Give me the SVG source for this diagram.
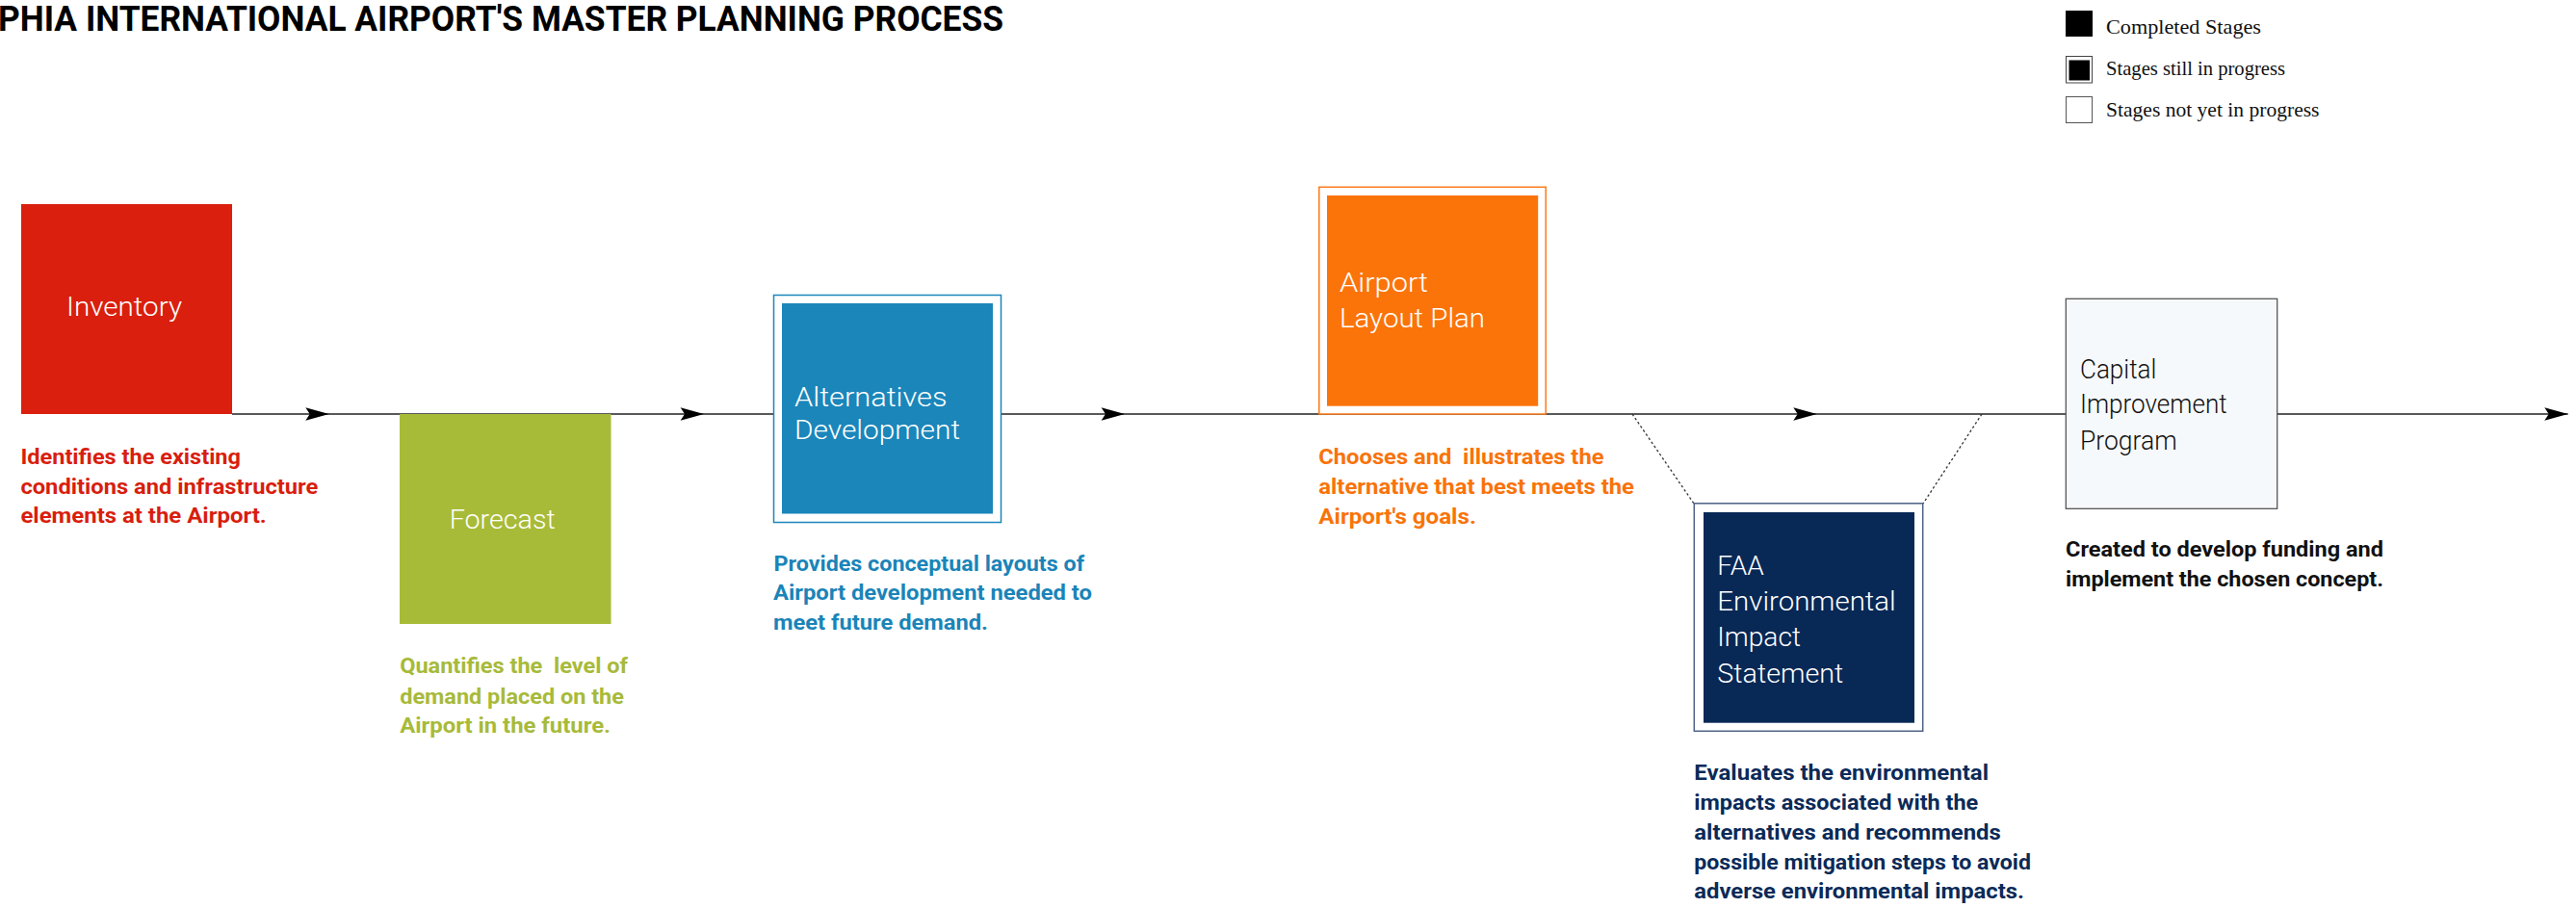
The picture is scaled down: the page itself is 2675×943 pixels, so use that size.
<svg xmlns="http://www.w3.org/2000/svg" width="2675" height="943" viewBox="0 0 2675 943">
  <style>
    .title{font-family:Roboto,"Liberation Sans",sans-serif;font-weight:700;font-size:36px;fill:#000}
    .lbl{font-family:Roboto,"Liberation Sans",sans-serif;font-weight:300;font-size:27px;fill:#fff}
    .dark{fill:#111}
    .desc{font-family:Roboto,"Liberation Sans",sans-serif;font-weight:700;font-size:22px;white-space:pre}
    .leg{font-family:"Liberation Serif",serif;font-size:21px;fill:#111}
    .conn{fill:none;stroke:#222;stroke-width:1.5}
    .dot{fill:none;stroke:#333;stroke-width:1.3;stroke-dasharray:2.5 2.5}
    .red{fill:#d81e0e}
    .green{fill:#a7ba39}
    .blue{fill:#1a84b8}
    .orange{fill:#f97309}
    .navy{fill:#0b2a58}
  </style>
  <defs>
    <marker id="arrow" markerUnits="userSpaceOnUse" markerWidth="26" markerHeight="16" refX="24.4" refY="7" orient="auto" overflow="visible">
      <path d="M0,0.3 L24.4,7 L0,13.7 L4.4,7 Z" fill="#000"/>
    </marker>
  </defs>

  <rect width="2675" height="943" fill="#fff"/>

  <!-- heading -->
  <text class="title" x="-2" y="32" textLength="1044" lengthAdjust="spacingAndGlyphs">PHIA INTERNATIONAL AIRPORT'S MASTER PLANNING PROCESS</text>

  <!-- legend -->
  <g id="legend">
    <rect x="2145" y="11" width="28" height="27" fill="#000"/>
    <text class="leg" x="2187" y="35" textLength="161" lengthAdjust="spacingAndGlyphs">Completed Stages</text>
    <rect x="2145.5" y="58.5" width="27" height="27.5" fill="#fff" stroke="#444" stroke-width="1"/>
    <rect x="2148.5" y="62.5" width="21.5" height="21" fill="#000"/>
    <text class="leg" x="2187" y="78" textLength="186" lengthAdjust="spacingAndGlyphs">Stages still in progress</text>
    <rect x="2145.5" y="100.5" width="27" height="27" fill="#fff" stroke="#555" stroke-width="1"/>
    <text class="leg" x="2187" y="120.5" textLength="221.5" lengthAdjust="spacingAndGlyphs">Stages not yet in progress</text>
  </g>

  <!-- process line and links to the EIS -->
  <g id="connectors">
    <path class="conn" d="M241,430 H341.7 H731 H1168 H1886.7 H2666.7" marker-mid="url(#arrow)" marker-end="url(#arrow)"/>
    <path class="dot" d="M1695,430 L1759,523"/>
    <path class="dot" d="M2058,430 L1997,523"/>
  </g>

  <!-- stages -->
  <g id="inventory">
    <rect x="22" y="212" width="219" height="218" fill="#da1f0e"/>
    <text class="lbl" x="69" y="328" textLength="120" lengthAdjust="spacingAndGlyphs">Inventory</text>
    <text class="desc red" x="21.4" y="482" textLength="228.6" lengthAdjust="spacingAndGlyphs">Identifies the existing</text>
    <text class="desc red" x="21.4" y="512.7" textLength="309" lengthAdjust="spacingAndGlyphs">conditions and infrastructure</text>
    <text class="desc red" x="21.4" y="542.7" textLength="255.4" lengthAdjust="spacingAndGlyphs">elements at the Airport.</text>
  </g>

  <g id="forecast">
    <rect x="415" y="430" width="219.5" height="218" fill="#a8bb38"/>
    <text class="lbl" x="466.7" y="549" textLength="110" lengthAdjust="spacingAndGlyphs">Forecast</text>
    <text class="desc green" x="415.2" y="699.3" textLength="236.8" lengthAdjust="spacingAndGlyphs">Quantifies the  level of</text>
    <text class="desc green" x="415.2" y="730.7" textLength="232.7" lengthAdjust="spacingAndGlyphs">demand placed on the</text>
    <text class="desc green" x="415.2" y="761" textLength="218.8" lengthAdjust="spacingAndGlyphs">Airport in the future.</text>
  </g>

  <g id="alternatives">
    <rect x="803.5" y="306.5" width="236" height="236" fill="#fff" stroke="#1b86ba" stroke-width="1.5"/>
    <rect x="812" y="315" width="219" height="218.5" fill="#1b86ba"/>
    <text class="lbl" x="825" y="421.7" textLength="158.6" lengthAdjust="spacingAndGlyphs">Alternatives</text>
    <text class="lbl" x="825" y="455.5" textLength="172" lengthAdjust="spacingAndGlyphs">Development</text>
    <text class="desc blue" x="803.5" y="592.7" textLength="322.5" lengthAdjust="spacingAndGlyphs">Provides conceptual layouts of</text>
    <text class="desc blue" x="803" y="623.3" textLength="331" lengthAdjust="spacingAndGlyphs">Airport development needed to</text>
    <text class="desc blue" x="803" y="654.3" textLength="223" lengthAdjust="spacingAndGlyphs">meet future demand.</text>
  </g>

  <g id="layout-plan">
    <rect x="1369.8" y="194.3" width="235.4" height="235.7" fill="#fff" stroke="#fb7a1a" stroke-width="1.5"/>
    <rect x="1378" y="203" width="219.2" height="218.7" fill="#fb740a"/>
    <text class="lbl" x="1391" y="303" textLength="92" lengthAdjust="spacingAndGlyphs">Airport</text>
    <text class="lbl" x="1391" y="339.5" textLength="151" lengthAdjust="spacingAndGlyphs">Layout Plan</text>
    <text class="desc orange" x="1369.3" y="481.7" textLength="296.2" lengthAdjust="spacingAndGlyphs">Chooses and  illustrates the</text>
    <text class="desc orange" x="1369.3" y="513.3" textLength="327.7" lengthAdjust="spacingAndGlyphs">alternative that best meets the</text>
    <text class="desc orange" x="1369.3" y="544.3" textLength="163.6" lengthAdjust="spacingAndGlyphs">Airport's goals.</text>
  </g>

  <g id="eis">
    <rect x="1759.3" y="522.8" width="237.4" height="236.5" fill="#fff" stroke="#4d6185" stroke-width="1.5"/>
    <rect x="1769" y="532" width="219" height="218.7" fill="#082856"/>
    <text class="lbl" x="1783.3" y="597.3" textLength="48.4" lengthAdjust="spacingAndGlyphs">FAA</text>
    <text class="lbl" x="1783.3" y="634" textLength="185.4" lengthAdjust="spacingAndGlyphs">Environmental</text>
    <text class="lbl" x="1783.3" y="671.3" textLength="86.7" lengthAdjust="spacingAndGlyphs">Impact</text>
    <text class="lbl" x="1783.3" y="708.7" textLength="131" lengthAdjust="spacingAndGlyphs">Statement</text>
    <text class="desc navy" x="1759.3" y="810" textLength="305.7" lengthAdjust="spacingAndGlyphs">Evaluates the environmental</text>
    <text class="desc navy" x="1759.3" y="840.8" textLength="295" lengthAdjust="spacingAndGlyphs">impacts associated with the</text>
    <text class="desc navy" x="1759.3" y="871.6" textLength="318.5" lengthAdjust="spacingAndGlyphs">alternatives and recommends</text>
    <text class="desc navy" x="1759.3" y="902.8" textLength="349.6" lengthAdjust="spacingAndGlyphs">possible mitigation steps to avoid</text>
    <text class="desc navy" x="1759.3" y="933.2" textLength="342.6" lengthAdjust="spacingAndGlyphs">adverse environmental impacts.</text>
  </g>

  <g id="capital-program">
    <rect x="2145.3" y="310.3" width="219.4" height="218" fill="#f6f9fb" stroke="#555" stroke-width="1.3"/>
    <text class="lbl dark" x="2160" y="392.7" textLength="79.3" lengthAdjust="spacingAndGlyphs">Capital</text>
    <text class="lbl dark" x="2160" y="429.3" textLength="152.7" lengthAdjust="spacingAndGlyphs">Improvement</text>
    <text class="lbl dark" x="2160" y="467.3" textLength="100.7" lengthAdjust="spacingAndGlyphs">Program</text>
    <text class="desc dark" x="2145" y="578.3" textLength="330" lengthAdjust="spacingAndGlyphs">Created to develop funding and</text>
    <text class="desc dark" x="2145" y="608.8" textLength="330" lengthAdjust="spacingAndGlyphs">implement the chosen concept.</text>
  </g>
</svg>
